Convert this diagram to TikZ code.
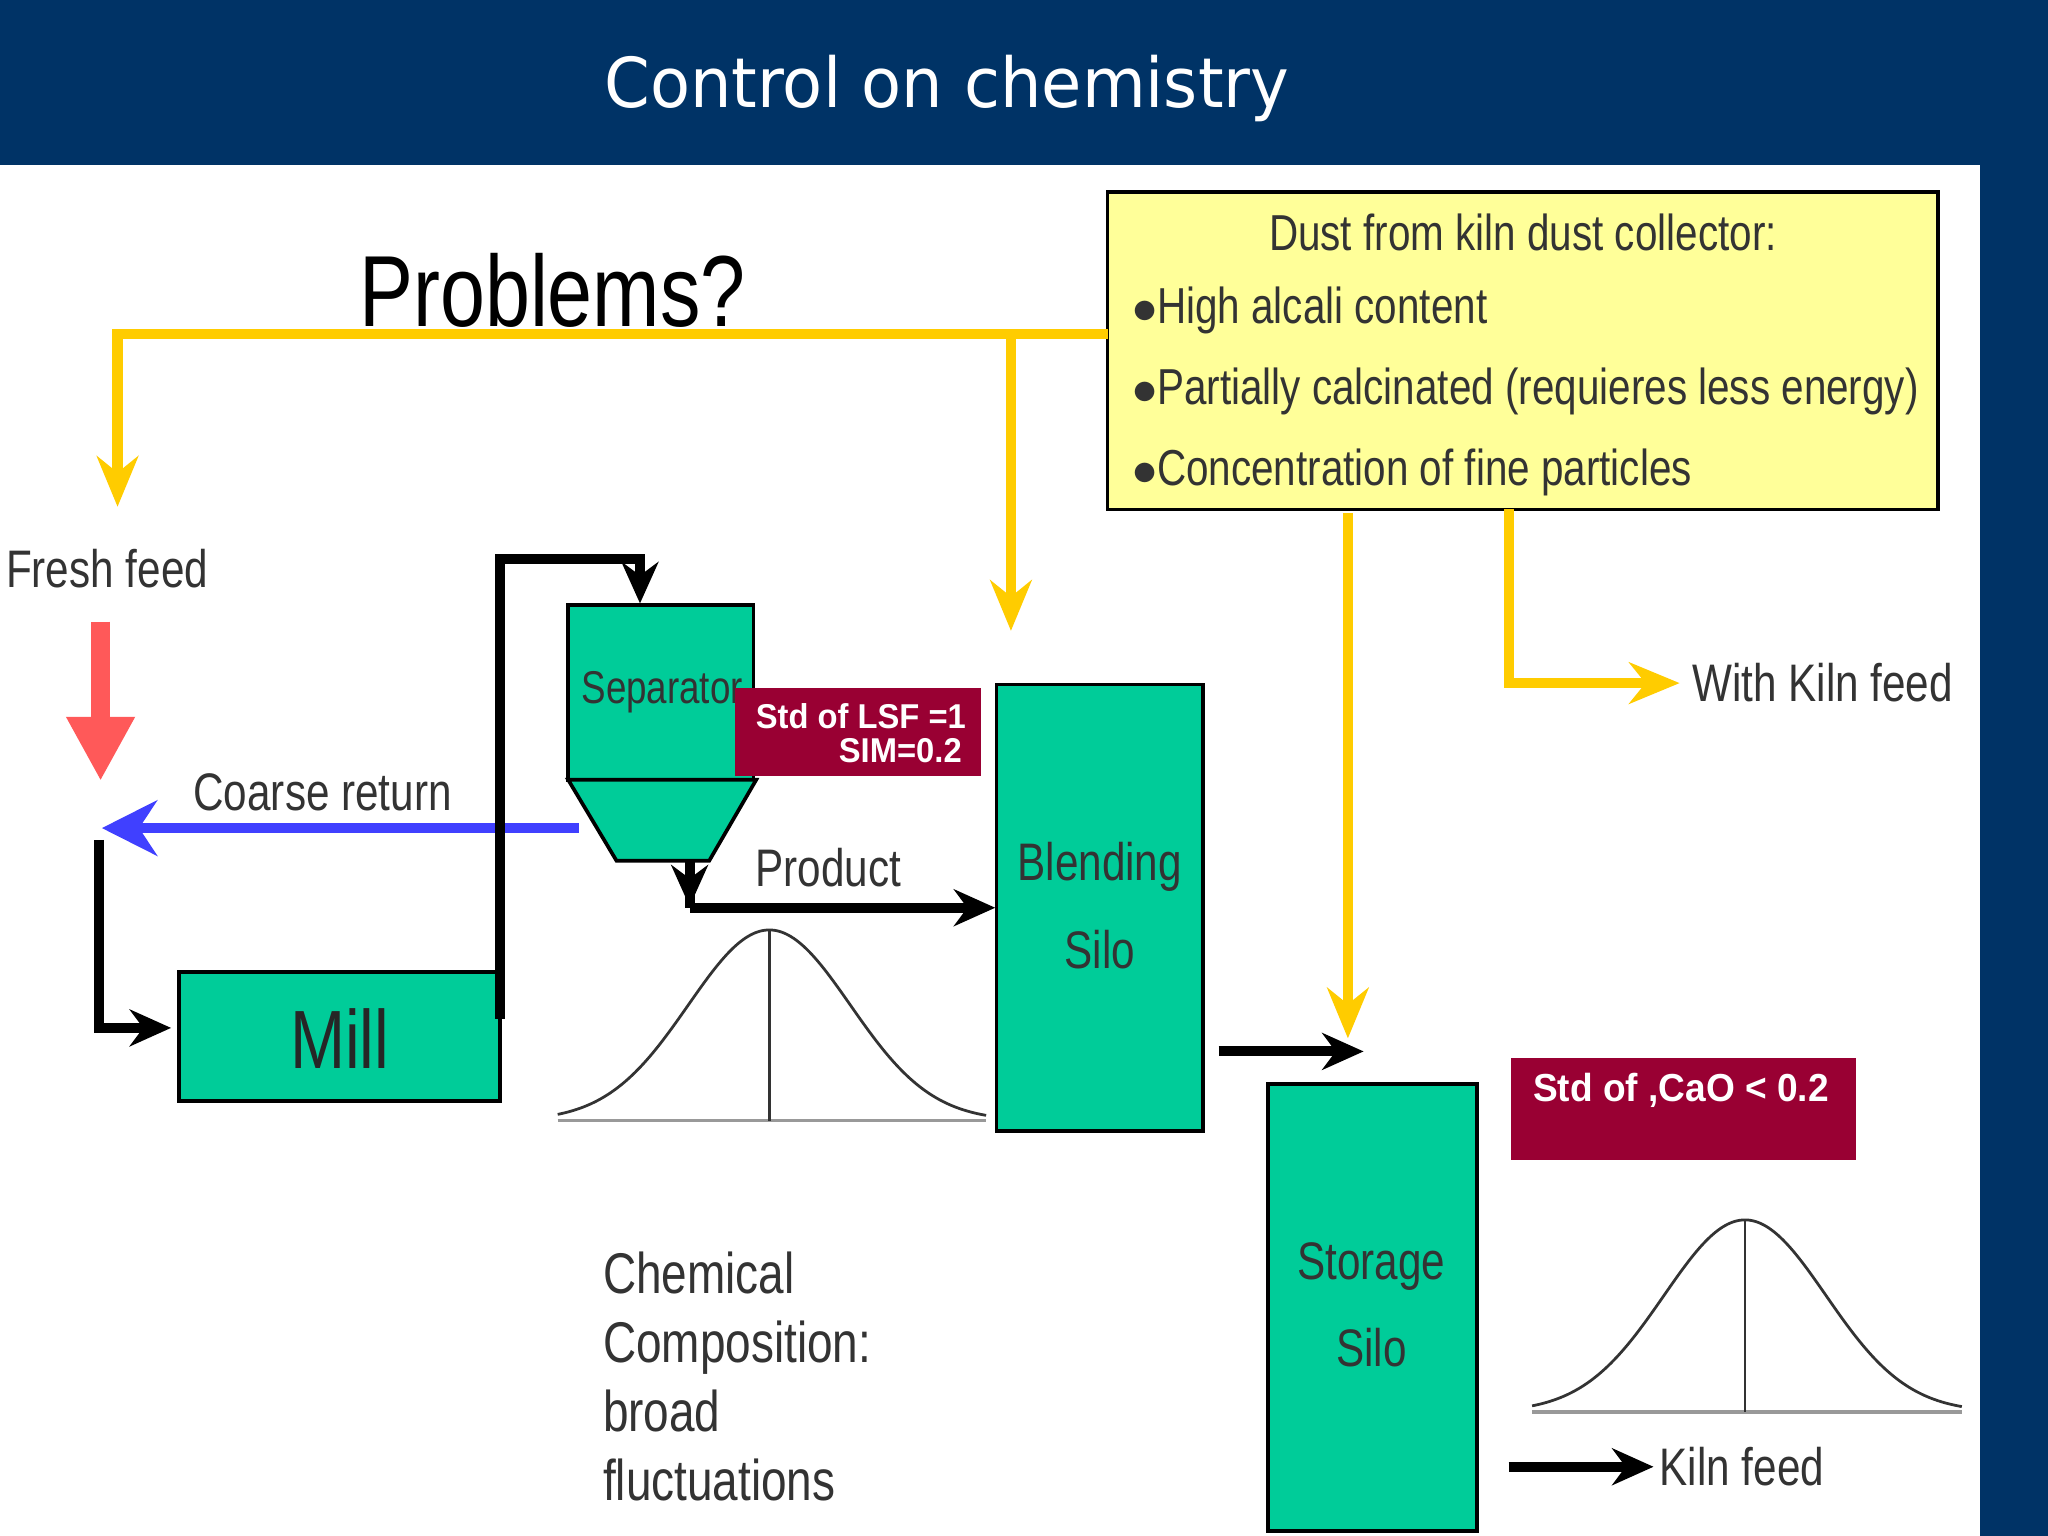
\documentclass[tikz,border=0pt]{standalone}
\usepackage{fontspec}
\setmainfont{Liberation Sans}[FakeStretch=0.8]
\newfontfamily\titlefont{DejaVu Sans}[FakeStretch=0.95]
\newfontfamily\boldf{Liberation Sans}[FakeStretch=0.95]
\usetikzlibrary{arrows.meta}
\definecolor{navy}{HTML}{003366}
\definecolor{ylw}{HTML}{FFCC00}
\definecolor{grn}{HTML}{00CC99}
\definecolor{wine}{HTML}{990033}
\definecolor{pale}{HTML}{FFFF99}
\tikzset{
 x=0.01cm,y=-0.01cm,
 yarr/.style={ylw,line width=2.2pt,-{Stealth[length=11pt,width=9pt]}},
 barr/.style={black,line width=2.2pt,-{Stealth[length=9pt,width=8pt]}},
 box/.style={draw=black,fill=grn,line width=0.8pt},
 lbl/.style={font=\fontsize{11.5}{14}\selectfont,text=black!80,inner sep=0},
 dl/.style={lbl,font=\fontsize{11}{14}\selectfont},
 redbox/.style={text=white,inner sep=0,font=\boldf\bfseries\fontsize{7.5}{9}\selectfont},
 gauss/.style={black!80,line width=0.6pt}
}
\begin{document}
\begin{tikzpicture}
\useasboundingbox (0,0) rectangle (1568,1176);
\fill[white] (0,0) rectangle (1568,1176);
\fill[navy] (0,0) rectangle (1568,126);
\fill[navy] (1516,0) rectangle (1568,1176);
\node[text=white,font=\titlefont\fontsize{15}{18}\selectfont] (title) at (725,68) {Control on chemistry};
\node[font=\fontsize{22}{26}\selectfont] (prob) at (423,222) {Problems?};

% yellow box
\path[draw=black,fill=pale,line width=0.8pt] (848,147) rectangle (1484,390);
\node[dl] (d0) at (1166,178) {Dust from kiln dust collector:};
\node[dl,anchor=west] (d1) at (866,238) {$\bullet$High alcali content};
\node[dl,anchor=west] (d2) at (866,300) {$\bullet$Partially calcinated (requieres less energy)};
\node[dl,anchor=west] (d3) at (866,362) {$\bullet$Concentration of fine particles};

\coordinate (y0) at (848,256);
\coordinate (y1) at (90,256);
\coordinate (y2) at (90,388);
\coordinate (y3) at (774,256);
\coordinate (y4) at (774,483);
\coordinate (y5) at (1032,393);
\coordinate (y6) at (1032,795);
\coordinate (y7) at (1155,390);
\coordinate (y8) at (1155,523);
\coordinate (y9) at (1286,523);
\draw[yarr] (y0) -- (y1) -- (y2);
\draw[yarr] (y3) -- (y4);
\draw[yarr] (y5) -- (y6);
\draw[yarr] (y7) -- (y8) -- (y9);
\node[lbl,anchor=west] (wk) at (1295,523) {With Kiln feed};

\node[lbl] (ff) at (82,435) {Fresh feed};
\coordinate (r0) at (77,476); \coordinate (r1) at (77,598);
\draw[red!65!white,line width=4pt,-{Triangle[length=14pt,width=14pt]}] (r0) -- (r1);

\coordinate (b0) at (443,634); \coordinate (b1) at (78,634);
\draw[blue!75!white,line width=2.2pt,-{Stealth[length=12pt,width=12pt]}] (b0) -- (b1);
\node[lbl] (cr) at (247,607) {Coarse return};

% mill
\path[box] (137,744) rectangle (383,843);
\node[font=\fontsize{18}{22}\selectfont,text=black!85] (mill) at (260,795) {Mill};
\coordinate (k0) at (76,643); \coordinate (k1) at (76,787); \coordinate (k2) at (131,787);
\draw[barr] (k0) -- (k1) -- (k2);
\coordinate (m0) at (383,780); \coordinate (m1) at (383,428); \coordinate (m2) at (490,428); \coordinate (m3) at (490,462);
\draw[barr] (m0) -- (m1) -- (m2) -- (m3);

% separator
\path[box] (435,463) rectangle (577,597);
\path[box] (435,597) -- (579,597) -- (543,659) -- (472,659) -- cycle;
\node[lbl,font=\fontsize{10}{12}\selectfont] (sep) at (507,530) {Separator};
\path[fill=wine] (563,527) rectangle (751,594);
\node[redbox,anchor=west] (s1) at (578,548) {Std of LSF =1};
\node[redbox,anchor=east] (s2) at (737,575) {SIM=0.2};

\coordinate (p0) at (528,660); \coordinate (p1) at (528,695); \coordinate (p2) at (762,695);
\draw[black,line width=2.2pt] (p0) -- (p1);
\draw[barr] (p1) -- (p2);
\draw[barr] (p0) -- (528,694);
\node[lbl] (prod) at (634,664) {Product};

% gaussian 1
\draw[black!40,line width=0.8pt] (427,858) -- (755,858);
\draw[gauss] plot[domain=427:755,samples=90,smooth] (\x,{858-146*exp(-((\x-589)/62)^2/2)});
\draw[gauss] (589,712) -- (589,858);

% blending silo
\path[box] (763,524) rectangle (921,866);
\node[lbl] (bl1) at (842,664) {Blending};
\node[lbl] (bl2) at (842,727) {Silo};
\coordinate (a0) at (933,805); \coordinate (a1) at (1044,805);
\draw[barr] (a0) -- (a1);

% storage silo
\path[box] (971,830) rectangle (1131,1172);
\node[lbl] (st1) at (1050,970) {Storage};
\node[lbl] (st2) at (1050,1032) {Silo};

\path[fill=wine] (1157,810) rectangle (1421,888);
\node[redbox,anchor=west,font=\boldf\bfseries\fontsize{8.5}{11}\selectfont] (cao) at (1173,835) {Std of ,CaO < 0.2};

\draw[black!40,line width=0.8pt] (1173,1081) -- (1502,1081);
\draw[gauss] plot[domain=1173:1502,samples=90,smooth] (\x,{1081-147*exp(-((\x-1336)/62)^2/2)});
\draw[gauss] (1336,934) -- (1336,1081);

\coordinate (kf0) at (1155,1123); \coordinate (kf1) at (1266,1123);
\draw[barr] (kf0) -- (kf1);
\node[lbl,anchor=west] (kf) at (1270,1123) {Kiln feed};

\node[lbl,anchor=north west,align=left,font=\fontsize{12.5}{15}\selectfont] (chem) at (461,958) {Chemical\\Composition:\\broad\\fluctuations};
\end{tikzpicture}
\end{document}
